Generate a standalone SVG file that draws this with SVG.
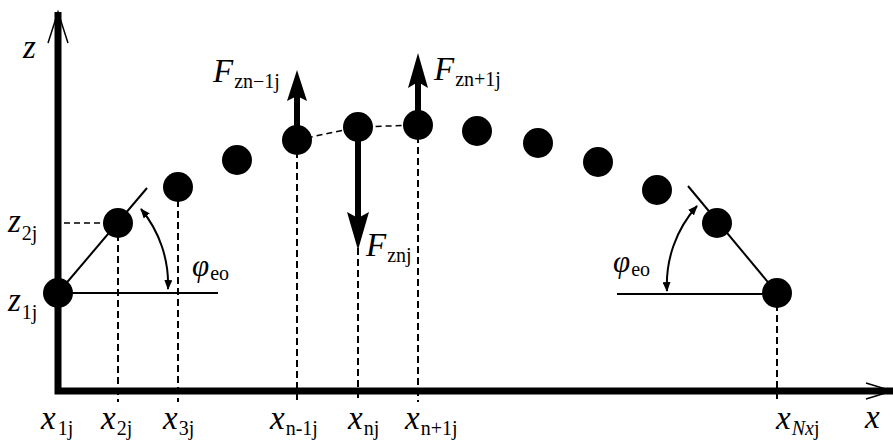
<svg xmlns="http://www.w3.org/2000/svg" width="893" height="441" viewBox="0 0 893 441">
<style>
.m{font-family:"Liberation Serif","Times New Roman",serif;font-style:italic;font-size:33px;fill:#000}
.s{font-style:normal;font-size:20px}
.si{font-style:italic;font-size:20px}
.ph{font-family:"Liberation Serif","Times New Roman",serif;font-style:italic;font-size:31px;fill:#000}
.dot{fill:#000}
.drop{stroke:#000;stroke-width:2;stroke-dasharray:7 4;fill:none}
.thin{stroke:#000;stroke-width:2;fill:none}
.link{stroke:#000;stroke-width:1.5;stroke-dasharray:6 4;fill:none}
.axis{stroke:#000;stroke-width:7;fill:none}
.tip{stroke:#000;stroke-width:1.5;fill:none}
.force{stroke:#000;stroke-width:6;fill:none}
.arc{stroke:#000;stroke-width:2;fill:none;marker-start:url(#ah);marker-end:url(#ah)}
</style>
<defs>
<marker id="ah" viewBox="0 0 10 8" refX="9" refY="4" markerWidth="10" markerHeight="8" markerUnits="userSpaceOnUse" orient="auto-start-reverse">
<path d="M0,0 L10,4 L0,8 Z" fill="#000"/>
</marker>
</defs>
<rect width="893" height="441" fill="#fff"/>

<g id="axes">
<path class="axis" d="M58,12 V391 H893" stroke-linejoin="miter"/>
<path class="tip" d="M48,43 L58,12 L68,43"/>
<path class="tip" d="M866,383 L892,391 L866,399"/>
</g>

<g id="connectors">
<path class="drop" d="M118,223 V402"/>
<path class="drop" d="M178,200 V402"/>
<path class="drop" d="M297,140 V402"/>
<path class="drop" d="M358,127 V402"/>
<path class="drop" d="M418,125 V402"/>
<path class="drop" d="M777,293 V402"/>
<path class="link" d="M64,223 H104"/>
<path class="link" d="M297,140 L358,127 L418,125"/>
<path class="thin" d="M58,293 L147,188"/>
<path class="thin" d="M58,293 H218"/>
<path class="thin" d="M777,293 L688,186"/>
<path class="thin" d="M617,294 H777"/>
<path class="arc" d="M141,209 A118,118 0 0 1 168,289"/>
<path class="arc" d="M697,206 A118,118 0 0 0 667,291"/>
<g id="forces">
<path class="force" d="M297,140 V96"/>
<path d="M297,70 L307,101 L297,96 L287,101 Z" fill="#000"/>
<path class="force" d="M418,125 V80"/>
<path d="M418,53 L428,88 L418,82 L408,88 Z" fill="#000"/>
<path class="force" d="M358,127 V220"/>
<path d="M358,250 L369,212 L358,218 L347,212 Z" fill="#000"/>
</g>
</g>

<g id="n1"><circle class="dot" cx="58" cy="293" r="15"/></g>
<g id="n2"><circle class="dot" cx="118" cy="223" r="15"/></g>
<g id="n3"><circle class="dot" cx="178" cy="187" r="15"/></g>
<g id="n4"><circle class="dot" cx="237" cy="160" r="15"/></g>
<g id="n5"><circle class="dot" cx="297" cy="140" r="15"/></g>
<g id="n6"><circle class="dot" cx="358" cy="127" r="15"/></g>
<g id="n7"><circle class="dot" cx="418" cy="125" r="15"/></g>
<g id="n8"><circle class="dot" cx="477" cy="131" r="15"/></g>
<g id="n9"><circle class="dot" cx="538" cy="143" r="15"/></g>
<g id="n10"><circle class="dot" cx="598" cy="162" r="15"/></g>
<g id="n11"><circle class="dot" cx="657" cy="190" r="15"/></g>
<g id="n12"><circle class="dot" cx="717" cy="223" r="15"/></g>
<g id="n13"><circle class="dot" cx="777" cy="293" r="15"/></g>

<g id="labels">
<text class="m" x="23" y="58">z</text>
<text class="m" x="8" y="232">z<tspan class="s" dx="1" dy="8">2j</tspan></text>
<text class="m" x="8" y="311">z<tspan class="s" dx="1" dy="8">1j</tspan></text>
<text class="m" x="41" y="429">x<tspan class="s" dx="2" dy="6">1j</tspan></text>
<text class="m" x="101" y="429">x<tspan class="s" dx="1" dy="6">2j</tspan></text>
<text class="m" x="163" y="429">x<tspan class="s" dx="1" dy="6">3j</tspan></text>
<text class="m" x="270" y="429">x<tspan class="s" dx="1" dy="6">n-1j</tspan></text>
<text class="m" x="348" y="429">x<tspan class="s" dx="1" dy="6">nj</tspan></text>
<text class="m" x="405" y="429">x<tspan class="s" dx="1" dy="6">n+1j</tspan></text>
<text class="m" x="776" y="429">x<tspan class="si" dx="1" dy="6">Nx</tspan><tspan class="s">j</tspan></text>
<text class="m" x="865" y="428">x</text>
<text class="m" x="213" y="82">F<tspan class="s" dx="1" dy="6">zn−1j</tspan></text>
<text class="m" x="434" y="80">F<tspan class="s" dx="1" dy="6">zn+1j</tspan></text>
<text class="m" x="366" y="256">F<tspan class="s" dx="1" dy="6">znj</tspan></text>
<text class="ph" x="192" y="276">φ<tspan class="s" dx="1" dy="4">eo</tspan></text>
<text class="ph" x="613" y="272">φ<tspan class="s" dx="1" dy="4">eo</tspan></text>
</g>
</svg>
